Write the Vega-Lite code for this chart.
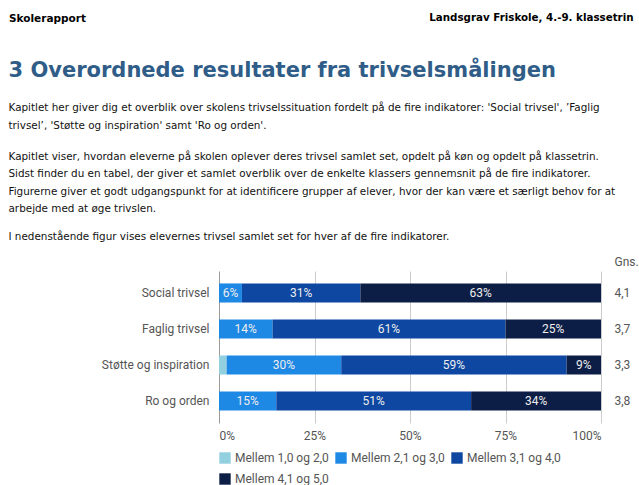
{
  "$schema": "https://vega.github.io/schema/vega-lite/v6.json",
  "padding": {"left": 8, "top": 0, "right": 0, "bottom": 0},
  "background": "white",
  "config": {"view": {"stroke": null}, "font": "Roboto"},
  "datasets": {
    "header": [
      {"left": "Skolerapport", "right": "Landsgrav Friskole, 4.-9. klassetrin"}
    ],
    "trivsel": [
      {"indikator": "Social trivsel", "catIdx": 1, "gns": "4,1", "niveau": "Mellem 1,0 og 2,0", "lvl": 1, "andel": 0.0},
      {"indikator": "Social trivsel", "catIdx": 1, "gns": "4,1", "niveau": "Mellem 2,1 og 3,0", "lvl": 2, "andel": 0.06},
      {"indikator": "Social trivsel", "catIdx": 1, "gns": "4,1", "niveau": "Mellem 3,1 og 4,0", "lvl": 3, "andel": 0.31},
      {"indikator": "Social trivsel", "catIdx": 1, "gns": "4,1", "niveau": "Mellem 4,1 og 5,0", "lvl": 4, "andel": 0.63},
      {"indikator": "Faglig trivsel", "catIdx": 2, "gns": "3,7", "niveau": "Mellem 1,0 og 2,0", "lvl": 1, "andel": 0.0},
      {"indikator": "Faglig trivsel", "catIdx": 2, "gns": "3,7", "niveau": "Mellem 2,1 og 3,0", "lvl": 2, "andel": 0.14},
      {"indikator": "Faglig trivsel", "catIdx": 2, "gns": "3,7", "niveau": "Mellem 3,1 og 4,0", "lvl": 3, "andel": 0.61},
      {"indikator": "Faglig trivsel", "catIdx": 2, "gns": "3,7", "niveau": "Mellem 4,1 og 5,0", "lvl": 4, "andel": 0.25},
      {"indikator": "Støtte og inspiration", "catIdx": 3, "gns": "3,3", "niveau": "Mellem 1,0 og 2,0", "lvl": 1, "andel": 0.02},
      {"indikator": "Støtte og inspiration", "catIdx": 3, "gns": "3,3", "niveau": "Mellem 2,1 og 3,0", "lvl": 2, "andel": 0.30},
      {"indikator": "Støtte og inspiration", "catIdx": 3, "gns": "3,3", "niveau": "Mellem 3,1 og 4,0", "lvl": 3, "andel": 0.59},
      {"indikator": "Støtte og inspiration", "catIdx": 3, "gns": "3,3", "niveau": "Mellem 4,1 og 5,0", "lvl": 4, "andel": 0.09},
      {"indikator": "Ro og orden", "catIdx": 4, "gns": "3,8", "niveau": "Mellem 1,0 og 2,0", "lvl": 1, "andel": 0.0},
      {"indikator": "Ro og orden", "catIdx": 4, "gns": "3,8", "niveau": "Mellem 2,1 og 3,0", "lvl": 2, "andel": 0.15},
      {"indikator": "Ro og orden", "catIdx": 4, "gns": "3,8", "niveau": "Mellem 3,1 og 4,0", "lvl": 3, "andel": 0.51},
      {"indikator": "Ro og orden", "catIdx": 4, "gns": "3,8", "niveau": "Mellem 4,1 og 5,0", "lvl": 4, "andel": 0.34}
    ]
  },
  "spacing": 20,
  "vconcat": [
    {
      "data": {"name": "header"},
      "width": 414.5,
      "height": 36,
      "title": {
        "text": "3 Overordnede resultater fra trivselsmålingen",
        "orient": "bottom",
        "anchor": "start",
        "frame": "bounds",
        "offset": 24,
        "font": "DejaVu Sans",
        "fontSize": 21,
        "fontWeight": "bold",
        "color": "#2f5d88",
        "subtitle": [
          "Kapitlet her giver dig et overblik over skolens trivselssituation fordelt på de fire indikatorer: 'Social trivsel', ’Faglig",
          "trivsel’, 'Støtte og inspiration' samt 'Ro og orden'."
        ],
        "subtitleFont": "DejaVu Sans",
        "subtitleFontSize": 10.4,
        "subtitleColor": "#111111",
        "subtitleLineHeight": 17.5,
        "subtitlePadding": 22
      },
      "mark": {"type": "text", "align": "right", "baseline": "middle", "font": "DejaVu Sans", "fontWeight": "bold", "fontSize": 10.3, "color": "#000000"},
      "encoding": {
        "x": {"value": "width"},
        "y": {
          "field": "left",
          "type": "nominal",
          "axis": {
            "title": null,
            "domain": false,
            "ticks": false,
            "grid": false,
            "labelAlign": "left",
            "labelPadding": 210.5,
            "labelFont": "DejaVu Sans",
            "labelFontWeight": "bold",
            "labelFontSize": 10.5,
            "labelColor": "#000000",
            "labelLimit": 300
          }
        },
        "text": {"field": "right"}
      }
    },
    {
      "data": {"name": "trivsel"},
      "width": 382,
      "height": 152,
      "title": {
        "text": [
          "Kapitlet viser, hvordan eleverne på skolen oplever deres trivsel samlet set, opdelt på køn og opdelt på klassetrin.",
          "Sidst finder du en tabel, der giver et samlet overblik over de enkelte klassers gennemsnit på de fire indikatorer.",
          "Figurerne giver et godt udgangspunkt for at identificere grupper af elever, hvor der kan være et særligt behov for at",
          "arbejde med at øge trivslen."
        ],
        "anchor": "start",
        "frame": "bounds",
        "font": "DejaVu Sans",
        "fontSize": 10.4,
        "fontWeight": "normal",
        "color": "#111111",
        "lineHeight": 17.5,
        "offset": 13,
        "subtitle": "I nedenstående figur vises elevernes trivsel samlet set for hver af de fire indikatorer.",
        "subtitleFont": "DejaVu Sans",
        "subtitleFontSize": 10.4,
        "subtitleColor": "#111111",
        "subtitlePadding": 17
      },
      "layer": [
        {
          "encoding": {
            "y": {
              "field": "indikator",
              "type": "nominal",
              "sort": {"field": "catIdx", "op": "min"},
              "scale": {"paddingInner": 0.47, "paddingOuter": 0.345},
              "axis": {"title": null, "domain": false, "ticks": false, "labelPadding": 10, "minExtent": 210.5, "labelFontSize": 12, "labelColor": "#555555", "labelFont": "Roboto", "labelLimit": 300}
            }
          },
          "layer": [
            {
              "mark": {"type": "bar"},
              "encoding": {
                "x": {
                  "field": "andel",
                  "type": "quantitative",
                  "stack": "zero",
                  "scale": {"domain": [0, 1], "nice": false},
                  "axis": {
                    "title": null,
                    "values": [0, 0.25, 0.5, 0.75, 1],
                    "format": ".0%",
                    "domain": false,
                    "ticks": false,
                    "grid": true,
                    "gridColor": {"condition": {"test": "datum.value === 0", "value": "#9a9a9a"}, "value": "#cccccc"},
                    "labelFlush": true,
                    "labelPadding": 7,
                    "labelFontSize": 12,
                    "labelColor": "#555555",
                    "labelFont": "Roboto"
                  }
                },
                "color": {
                  "field": "niveau",
                  "type": "nominal",
                  "scale": {
                    "domain": ["Mellem 1,0 og 2,0", "Mellem 2,1 og 3,0", "Mellem 3,1 og 4,0", "Mellem 4,1 og 5,0"],
                    "range": ["#92cfdf", "#1e88e5", "#0d47a1", "#0c1e45"]
                  },
                  "legend": {
                    "title": null,
                    "orient": "bottom",
                    "direction": "horizontal",
                    "columns": 3,
                    "symbolType": "square",
                    "symbolSize": 130,
                    "symbolStrokeWidth": 0,
                    "labelFontSize": 12,
                    "labelColor": "#555555",
                    "labelFont": "Roboto",
                    "labelOffset": 4,
                    "columnPadding": 6,
                    "rowPadding": 9,
                    "offset": 11
                  }
                },
                "order": {"field": "lvl", "type": "quantitative"}
              }
            },
            {
              "mark": {"type": "text", "font": "Roboto", "fontSize": 12, "color": "#eeeeee", "baseline": "middle"},
              "encoding": {
                "x": {"field": "andel", "type": "quantitative", "stack": "zero", "bandPosition": 0.5},
                "text": {"condition": {"test": "datum.andel < 0.04", "value": ""}, "field": "andel", "type": "quantitative", "format": ".0%"},
                "order": {"field": "lvl", "type": "quantitative"}
              }
            }
          ]
        },
        {
          "mark": {"type": "point", "opacity": 0},
          "encoding": {
            "y": {
              "field": "gns",
              "type": "nominal",
              "sort": {"field": "catIdx", "op": "min"},
              "scale": {"type": "band", "paddingInner": 0.47, "paddingOuter": 0.345},
              "axis": {
                "orient": "right",
                "domain": false,
                "ticks": false,
                "labelPadding": 13,
                "labelFontSize": 12,
                "labelColor": "#555555",
                "labelFont": "Roboto",
                "title": "Gns.",
                "titleAngle": 0,
                "titleAlign": "left",
                "titleBaseline": "bottom",
                "titleX": 13,
                "titleY": -3,
                "titleFont": "Roboto",
                "titleFontSize": 12,
                "titleFontWeight": "normal",
                "titleColor": "#555555"
              }
            }
          }
        }
      ],
      "resolve": {"scale": {"y": "independent"}, "axis": {"y": "independent"}}
    }
  ]
}
